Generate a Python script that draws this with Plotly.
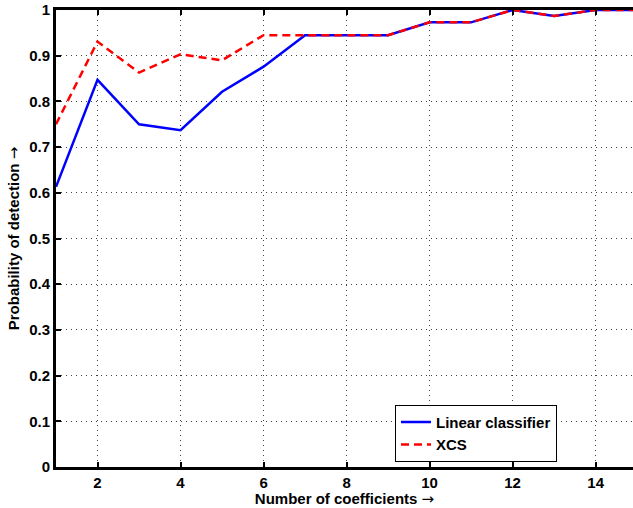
import plotly.graph_objects as go

coeffs = list(range(1, 16))
linear = [0.613, 0.847, 0.750, 0.737, 0.821, 0.876, 0.945, 0.945, 0.945, 0.973, 0.973, 1.0, 0.987, 1.0, 1.0]
xcs = [0.750, 0.931, 0.863, 0.903, 0.890, 0.945, 0.945, 0.945, 0.945, 0.973, 0.973, 1.0, 0.987, 1.0, 1.0]
x_ticks = [2, 4, 6, 8, 10, 12, 14]
y_ticks = [0, 0.1, 0.2, 0.3, 0.4, 0.5, 0.6, 0.7, 0.8, 0.9, 1]
y_labels = ["0", "0.1", "0.2", "0.3", "0.4", "0.5", "0.6", "0.7", "0.8", "0.9", "1"]

FAM = "Liberation Sans, Arial, sans-serif"
ARROW = "<span style='font-family:DejaVu Sans;font-weight:normal'>→</span>"

fig = go.Figure()
fig.add_trace(go.Scatter(x=coeffs, y=linear, mode="lines", name="Linear classifier",
                         line=dict(color="#0000FF", width=2.5)))
fig.add_trace(go.Scatter(x=coeffs, y=xcs, mode="lines", name="XCS",
                         line=dict(color="#FF0000", width=2.5, dash="8px,5px")))

bold = dict(family=FAM, size=15, color="black", weight="bold")
fig.update_layout(
    width=633, height=508,
    margin=dict(l=56, r=0, t=10, b=41),
    plot_bgcolor="white", paper_bgcolor="white",
    font=dict(family=FAM, size=15, color="black"),
    showlegend=True,
    legend=dict(x=0.5875, y=0.136, xanchor="left", yanchor="top",
                bgcolor="white", bordercolor="black", borderwidth=1,
                font=bold, tracegroupgap=0, itemwidth=30),
)
axis_common = dict(
    showline=True, linecolor="black", linewidth=3,
    ticks="inside", ticklen=5, tickwidth=2, tickcolor="black",
    showgrid=True, gridcolor="#444444", griddash="1px,4px", gridwidth=1,
    zeroline=False, tickfont=bold,
)
fig.update_xaxes(
    range=[1, 14.9], tickvals=x_ticks, ticktext=[str(v) for v in x_ticks],
    mirror="ticks",
    title=dict(text="Number of coefficients " + ARROW, standoff=4, font=bold),
    **axis_common,
)
fig.update_yaxes(
    range=[0, 1], tickvals=y_ticks, ticktext=y_labels,
    title=dict(text="Probability of detection " + ARROW, standoff=6, font=bold),
    **axis_common,
)
fig.write_html("out.html")
